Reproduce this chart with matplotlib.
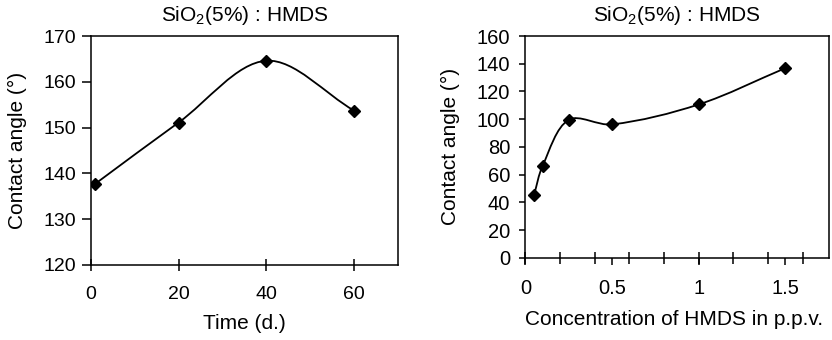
import numpy as np
import matplotlib
matplotlib.use("Agg")
import matplotlib.pyplot as plt
from matplotlib.path import Path
from matplotlib.patches import PathPatch

plt.rcParams["font.family"] = ["Liberation Sans", "DejaVu Sans"]
plt.rcParams["mathtext.default"] = "regular"

# data
time_days = [1, 20, 40, 60]
angle_time = [137.7, 151.1, 164.6, 153.7]

conc_ppv = [0.05, 0.1, 0.25, 0.5, 1.0, 1.5]
angle_conc = [45.2, 66.4, 99.5, 96.2, 110.6, 136.8]

title = "SiO$_2$(5%) : HMDS"
ylabel = "Contact angle (°)"


def smooth_path(x, y, sx, sy):
    # cubic Bezier through the points, tangents weighted by segment length
    # (sx, sy = data units per pixel, so the lengths are measured on screen)
    p = np.column_stack([x, y]).astype(float)
    q = p / [sx, sy]
    n = len(p)
    d = np.hypot(*np.diff(q, axis=0).T)
    tang = np.zeros_like(q)
    tang[0] = (q[1] - q[0]) / d[0]
    tang[-1] = (q[-1] - q[-2]) / d[-1]
    for i in range(1, n - 1):
        tang[i] = (q[i + 1] - q[i - 1]) / (d[i - 1] + d[i])
    verts = [q[0]]
    codes = [Path.MOVETO]
    for i in range(n - 1):
        verts += [q[i] + tang[i] * d[i] / 3, q[i + 1] - tang[i + 1] * d[i] / 3, q[i + 1]]
        codes += [Path.CURVE4] * 3
    verts = np.array(verts) * [sx, sy]
    return Path(verts, codes)


fig = plt.figure(figsize=(8.32, 3.4), dpi=100)
fs_tick = 14
fs_lab = 15

# ── left: contact angle vs time ──
ax1 = fig.add_axes([0.109, 0.2206, 0.3695, 0.6735])
ax1.set_xlim(0, 70)
ax1.set_ylim(120, 170)
ax1.add_patch(PathPatch(smooth_path(time_days, angle_time, 70 / 307, 50 / 229),
                        facecolor="none", edgecolor="black", lw=1.3))
ax1.plot(time_days, angle_time, ls="none", marker="D", ms=5.8, color="black")
ax1.set_xticks([0, 20, 40, 60])
ax1.set_yticks(range(120, 171, 10))
ax1.tick_params(axis="x", direction="inout", length=8, width=1.1, labelsize=fs_tick, pad=11)
ax1.tick_params(axis="y", direction="out", length=6.5, width=1.1, labelsize=fs_tick, pad=4)
ax1.set_xlabel("Time (d.)", fontsize=fs_lab)
ax1.set_ylabel(ylabel, fontsize=fs_lab)
ax1.xaxis.set_label_coords(0.5, -0.215)
ax1.yaxis.set_label_coords(-0.207, 0.5)
ax1.set_title(title, fontsize=fs_lab, pad=11)

# ── right: contact angle vs concentration ──
ax2 = fig.add_axes([0.6314, 0.242, 0.3644, 0.652])
ax2.set_xlim(0, 1.75)
ax2.set_ylim(0, 160)
ax2.add_patch(PathPatch(smooth_path(conc_ppv, angle_conc, 1.75 / 303, 160 / 222),
                        facecolor="none", edgecolor="black", lw=1.3))
ax2.plot(conc_ppv, angle_conc, ls="none", marker="D", ms=5.8, color="black")
ax2.xaxis.remove_overlapping_locs = False
ax2.set_xticks([0, 0.5, 1, 1.5])
ax2.set_xticklabels(["0", "0.5", "1", "1.5"])
ax2.set_xticks([0, 0.2, 0.4, 0.6, 0.8, 1.0, 1.2, 1.4, 1.6], minor=True)
ax2.set_yticks(range(0, 161, 20))
ax2.tick_params(axis="x", which="major", direction="out", length=5, width=1.1,
                labelsize=fs_tick + 0.5, pad=10)
ax2.tick_params(axis="x", which="minor", direction="inout", length=8, width=1.1)
ax2.tick_params(axis="y", direction="out", length=4.5, width=1.1, labelsize=fs_tick + 0.5, pad=6.5)
ax2.set_xlabel("Concentration of HMDS in p.p.v.", fontsize=fs_lab)
ax2.set_ylabel(ylabel, fontsize=fs_lab)
ax2.xaxis.set_label_coords(0.49, -0.236)
ax2.yaxis.set_label_coords(-0.215, 0.5)
ax2.set_title(title, fontsize=fs_lab, pad=11)

for ax in (ax1, ax2):
    for s in ax.spines.values():
        s.set_linewidth(1.1)

fig.savefig("out.png", dpi=100)
